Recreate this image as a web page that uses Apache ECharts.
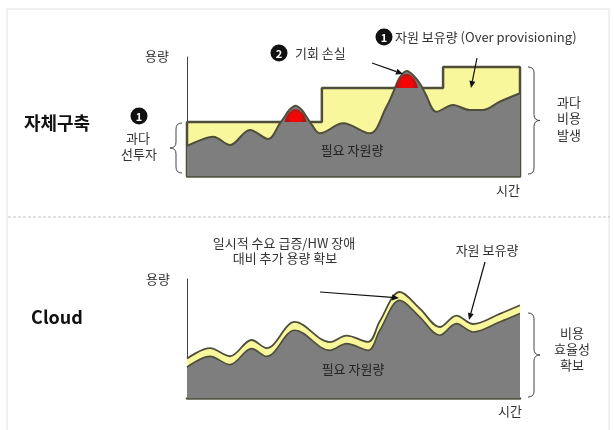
<!DOCTYPE html>
<html>
<head>
<meta charset="utf-8">
<script src="https://cdn.jsdelivr.net/npm/echarts@6/dist/echarts.min.js"></script>
<style>
html,body{margin:0;padding:0;background:#fff;}
#chart{width:614px;height:430px;}
</style>
</head>
<body>
<div id="chart"></div>
<script>
// ---------- data (time 0-100, capacity 0-100) ----------
// 자체구축 (on-premise)
const onPremTime   = [0, 2.9, 7.9, 12.9, 18.9, 24.4, 27.9, 29.2, 30.6, 32.6, 34.6, 36.0, 37.4, 39.9, 46.9, 54.9, 59.9, 62.2, 63.8, 66.0, 68.2, 70.2, 71.6, 74.9, 79.9, 84.9, 88.9, 93.9, 100];
const onPremDemand = [25.9, 29.6, 33.9, 26.7, 39.7, 31.9, 45.4, 50.5, 56.5, 60.5, 56.5, 50.5, 44.5, 36.8, 45.4, 36.8, 59.7, 74, 84.5, 90.5, 86, 78.5, 71, 55.4, 61.2, 56.9, 56.9, 64, 71.3];
const onPremCapTime  = [0, 0, 40.5, 76.9, 100, 100];
const onPremCapLevel = [0, 46.6, 75.9, 94, 94, 0];
// 기회 손실 (demand above capacity)
const lossATime  = [29.3, 29.9, 31.0, 32.6, 34.2, 35.3, 35.9];
const lossAValue = [46.6, 51.5, 55.5, 57.5, 55.5, 51.5, 46.6];
const lossALevel = 46.6;
const lossBTime  = [62.6, 63.3, 64.5, 66.0, 67.5, 68.7, 69.4];
const lossBValue = [75.9, 81.5, 86, 88, 86, 81.5, 75.9];
const lossBLevel = 75.9;
// Cloud
const cloudTime     = [0, 6.9, 12.9, 19.4, 23.9, 32.4, 42.9, 47.9, 54.4, 57.9, 63.9, 69.9, 75.9, 80.9, 85.9, 93.9, 100];
const cloudDemand   = [26.7, 35.9, 28.8, 42.6, 35.9, 58.4, 41.1, 46.9, 41.1, 58.4, 84.2, 69.8, 54.1, 64.1, 56.9, 65.5, 72.8];
const cloudCapacity = [34.0, 43.0, 36.0, 50.0, 43.0, 65.6, 48.2, 53.8, 48.4, 66.2, 91.4, 77.2, 61.2, 71.0, 63.8, 72.6, 80.0];

// ---------- helpers ----------
const zip = (xs, ys) => xs.map((x, i) => [x, ys[i]]);
const FONT = '"Noto Sans CJK KR", "Noto Sans", sans-serif';
const OUT = '#4e4e3a';
const GRAY = '#7e7e7e';
const YEL = '#f9f79c';

function txt(s, x, y, size, opts) {
  opts = opts || {};
  return {
    type: 'text', x: x, y: y, z: 10,
    style: {
      text: s, fill: opts.color || '#333',
      font: (opts.bold ? 'bold ' : '') + size + 'px ' + FONT,
      textAlign: opts.align || 'center', textVerticalAlign: 'middle', verticalAlign: 'middle'
    }
  };
}
function numCircle(n, cx, cy) {
  return [
    { type: 'circle', shape: { cx: cx, cy: cy, r: 8.5 }, style: { fill: '#111' }, z: 10 },
    { type: 'text', x: cx, y: cy + 0.5, z: 11,
      style: { text: String(n), fill: '#fff', font: 'bold 11px ' + FONT,
               textAlign: 'center', textVerticalAlign: 'middle', verticalAlign: 'middle' } }
  ];
}
function arrow(x1, y1, x2, y2) {
  const a = Math.atan2(y2 - y1, x2 - x1), L = 7, W = 3;
  const bx = x2 - L * Math.cos(a), by = y2 - L * Math.sin(a);
  return [
    { type: 'line', shape: { x1: x1, y1: y1, x2: bx, y2: by }, style: { stroke: '#111', lineWidth: 1.2 }, z: 10 },
    { type: 'polygon', z: 10, shape: { points: [[x2, y2],
        [bx + W * Math.sin(a), by - W * Math.cos(a)],
        [bx - W * Math.sin(a), by + W * Math.cos(a)]] }, style: { fill: '#111' } }
  ];
}
function brace(x0, y1, y2, w) {
  const xm = x0 + w / 2, ym = (y1 + y2) / 2, r = 6;
  const st = { stroke: '#444', lineWidth: 1, fill: null };
  return [
    { type: 'bezierCurve', shape: { x1: x0, y1: y1, cpx1: xm, cpy1: y1, x2: xm, y2: y1 + r }, style: st },
    { type: 'line', shape: { x1: xm, y1: y1 + r, x2: xm, y2: ym - r }, style: st },
    { type: 'bezierCurve', shape: { x1: xm, y1: ym - r, cpx1: xm, cpy1: ym, x2: x0 + w, y2: ym }, style: st },
    { type: 'bezierCurve', shape: { x1: x0 + w, y1: ym, cpx1: xm, cpy1: ym, x2: xm, y2: ym + r }, style: st },
    { type: 'line', shape: { x1: xm, y1: ym + r, x2: xm, y2: y2 - r }, style: st },
    { type: 'bezierCurve', shape: { x1: xm, y1: y2 - r, cpx1: xm, cpy1: y2, x2: x0, y2: y2 }, style: st }
  ];
}
const redFill = () => new echarts.graphic.RadialGradient(0.5, 0.7, 0.7, [
  { offset: 0, color: '#ff0000' }, { offset: 0.55, color: '#f00808' }, { offset: 1, color: '#a81a1a' }]);

function axesFor(idx) {
  return {
    x: { gridIndex: idx, type: 'value', min: 0, max: 100,
         axisLine: { show: true, lineStyle: { color: '#55554a', width: 2.5 } },
         axisTick: { show: false }, axisLabel: { show: false }, splitLine: { show: false } },
    y: { gridIndex: idx, type: 'value', min: 0, max: 102.6,
         axisLine: { show: true, onZero: false, lineStyle: { color: '#444', width: 1 } },
         axisTick: { show: false }, axisLabel: { show: false }, splitLine: { show: false } }
  };
}
const a0 = axesFor(0), a1 = axesFor(1);

const graphics = [].concat(
  // frame and separator
  [{ type: 'polyline', shape: { points: [[7, 430], [7, 9], [609, 9], [609, 430]] }, style: { stroke: '#e2e2e2', lineWidth: 1, fill: null } },
   { type: 'line', shape: { x1: 8, y1: 217, x2: 610, y2: 217 }, style: { stroke: '#c4c4c4', lineWidth: 1, lineDash: [3, 2] } }],
  // top panel
  [txt('자체구축', 57, 123, 18, { bold: true, color: '#111' }),
   txt('과다', 138, 138, 13), txt('선투자', 139, 154, 13),
   txt('용량', 157, 56, 13), txt('시간', 508, 190, 13),
   txt('과다', 569, 102, 13), txt('비용', 569, 118, 13), txt('발생', 569, 135, 13),
   txt('필요 자원량', 352, 150, 13, { color: '#222' }),
   txt('기회 손실', 295, 53, 13, { align: 'left' }),
   txt('자원 보유량 (Over provisioning)', 395, 37, 13, { align: 'left' })],
  numCircle(1, 139, 116), numCircle(2, 279, 53), numCircle(1, 384, 37),
  arrow(372, 63, 403, 74), arrow(477, 58, 471, 88),
  brace(182, 123, 173, -12), brace(528, 67, 174, 12),
  // bottom panel
  [txt('Cloud', 57, 317, 18, { bold: true, color: '#111' }),
   txt('용량', 158, 279, 13), txt('시간', 510, 411, 13),
   txt('일시적 수요 급증/HW 장애', 284, 243, 13), txt('대비 추가 용량 확보', 285, 258, 13),
   txt('자원 보유량', 487, 250, 13),
   txt('비용', 572, 333, 13), txt('효율성', 572, 349, 13), txt('확보', 572, 365, 13),
   txt('필요 자원량', 353, 369, 13, { color: '#222' })],
  arrow(320, 292, 399, 298), arrow(485, 262, 469, 320),
  brace(528, 313, 397, 12)
);

const chart = echarts.init(document.getElementById('chart'), null, { renderer: 'canvas' });
chart.setOption({
  animation: false,
  backgroundColor: '#ffffff',
  grid: [
    { left: 187, top: 57, width: 333, height: 119 },
    { left: 187, top: 279, width: 333, height: 119 }
  ],
  xAxis: [a0.x, a1.x],
  yAxis: [a0.y, a1.y],
  series: [
    { name: '자원 보유량', type: 'line', xAxisIndex: 0, yAxisIndex: 0, step: 'end', symbol: 'none',
      data: zip(onPremCapTime, onPremCapLevel),
      lineStyle: { color: OUT, width: 2.5 }, areaStyle: { color: YEL, opacity: 1 }, z: 2 },
    { name: '필요 자원량', type: 'line', xAxisIndex: 0, yAxisIndex: 0, smooth: 0.35, symbol: 'none',
      data: zip(onPremTime, onPremDemand),
      lineStyle: { color: OUT, width: 2 }, areaStyle: { color: GRAY, opacity: 1 }, z: 3 },
    { name: '기회 손실 A', type: 'line', xAxisIndex: 0, yAxisIndex: 0, smooth: 0.5, symbol: 'none',
      data: zip(lossATime, lossAValue),
      lineStyle: { width: 0 }, areaStyle: { color: redFill(), opacity: 1, origin: lossALevel }, z: 4 },
    { name: '기회 손실 B', type: 'line', xAxisIndex: 0, yAxisIndex: 0, smooth: 0.5, symbol: 'none',
      data: zip(lossBTime, lossBValue),
      lineStyle: { width: 0 }, areaStyle: { color: redFill(), opacity: 1, origin: lossBLevel }, z: 4 },
    { name: 'Cloud 자원 보유량', type: 'line', xAxisIndex: 1, yAxisIndex: 1, smooth: 0.35, symbol: 'none',
      data: zip(cloudTime, cloudCapacity),
      lineStyle: { color: OUT, width: 1.8 }, areaStyle: { color: YEL, opacity: 1 }, z: 2 },
    { name: 'Cloud 필요 자원량', type: 'line', xAxisIndex: 1, yAxisIndex: 1, smooth: 0.35, symbol: 'none',
      data: zip(cloudTime, cloudDemand),
      lineStyle: { color: OUT, width: 1.6 }, areaStyle: { color: GRAY, opacity: 1 }, z: 3 }
  ],
  graphic: { elements: graphics }
});
</script>
</body>
</html>
